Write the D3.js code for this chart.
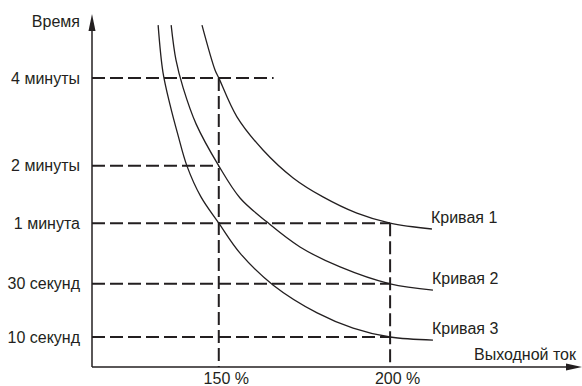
<!DOCTYPE html>
<html><head><meta charset="utf-8">
<script src="https://cdn.jsdelivr.net/npm/d3@7"></script>
<style>
body{margin:0;background:#fff}
svg{display:block}
text{font-family:"Liberation Sans",Arial,sans-serif;font-size:16px;fill:#231f20}
</style>
</head><body>
<svg id="c" width="582" height="386"></svg>
<script>
// ---- data ----
const timeLabels = ["10 секунд", "30 секунд", "1 минута", "2 минуты", "4 минуты"];
const timeLevels = [0.87, 2.41, 4.17, 5.83, 8.38];      // schematic time scale
const timeLineEnds = [200, 200, 200, 150, 166];          // output current % where each dashed line stops
const currentTicks = [150, 200];
const currentTickLabels = ["150 %", "200 %"];
const currentLineTops = [8.38, 4.17];                    // time level where each vertical dashed line starts
const curveNames = ["Кривая 1", "Кривая 2", "Кривая 3"];
const curve1X = [145.1, 148.9, 150.0, 155.3, 162.9, 171.7, 180.4, 190.3, 200.0, 212.2];
const curve1Y = [9.91, 8.61, 8.38, 7.25, 6.29, 5.48, 4.93, 4.46, 4.17, 4.00];
const curve2X = [136.1, 137.5, 139.6, 143.4, 150.0, 156.2, 164.1, 173.7, 185.4, 200.0, 212.5];
const curve2Y = [9.91, 8.90, 8.09, 7.04, 5.83, 4.90, 4.20, 3.48, 2.90, 2.41, 2.23];
const curve3X = [132.3, 133.7, 135.8, 138.1, 140.7, 144.8, 150.0, 156.2, 165.8, 178.7, 189.2, 200.0, 212.5];
const curve3Y = [9.91, 8.55, 7.59, 6.72, 5.83, 4.93, 4.17, 3.30, 2.38, 1.57, 1.13, 0.87, 0.78];
const yTitle = "Время";
const xTitle = "Выходной ток";

// ---- layout ----
const mLeft = 92, mBottom = 367, mTop = 22, mRight = 582;
const ink = "#231f20";
const svg = d3.select("#c");

const x = d3.scaleLinear().domain([113, 256]).range([mLeft, mRight]);
const y = d3.scaleLinear().domain([0, 10]).range([mBottom, mTop]);

// dashed horizontal reference lines
const dash = "13,5";
svg.append("g").selectAll("line").data(timeLevels).join("line")
  .attr("x1", x(113)).attr("x2", (d, i) => x(timeLineEnds[i]))
  .attr("y1", d => y(d)).attr("y2", d => y(d))
  .attr("stroke", ink).attr("stroke-width", 2).attr("stroke-dasharray", dash);

// dashed vertical reference lines
svg.append("g").selectAll("line").data(currentTicks).join("line")
  .attr("x1", d => x(d)).attr("x2", d => x(d))
  .attr("y1", (d, i) => y(currentLineTops[i])).attr("y2", y(0))
  .attr("stroke", ink).attr("stroke-width", 2).attr("stroke-dasharray", dash);

// curves
const curves = [[curve1X, curve1Y], [curve2X, curve2Y], [curve3X, curve3Y]];
const line = d3.line().x(d => x(d[0])).y(d => y(d[1])).curve(d3.curveCatmullRom.alpha(0.5));
curves.forEach(([cx, cy], k) => {
  const pts = cx.map((v, i) => [v, cy[i]]);
  svg.append("path").attr("d", line(pts))
    .attr("fill", "none").attr("stroke", ink).attr("stroke-width", 1.3);
  const last = pts[pts.length - 1];
  svg.append("text").attr("x", x(last[0]) - 1).attr("y", y(last[1]) - 6).text(curveNames[k]);
});

// axes
const yAxis = d3.axisLeft(y).tickValues(timeLevels)
  .tickFormat((d, i) => timeLabels[i]).tickSize(0).tickPadding(12);
const gy = svg.append("g").attr("transform", `translate(${mLeft},0)`).call(yAxis);
gy.select(".domain").remove();
gy.attr("font-size", null).attr("font-family", null);
gy.selectAll("text").attr("fill", ink);

const xAxis = d3.axisBottom(x).tickValues(currentTicks)
  .tickFormat((d, i) => currentTickLabels[i]).tickSize(0).tickPadding(6);
const gx = svg.append("g").attr("transform", `translate(0,${mBottom})`).call(xAxis);
gx.select(".domain").remove();
gx.attr("font-size", null).attr("font-family", null);
gx.selectAll("text").attr("fill", ink).attr("dx", 7);

// axis lines with arrows
svg.append("line").attr("x1", mLeft).attr("x2", mLeft).attr("y1", mBottom).attr("y2", 28)
  .attr("stroke", ink).attr("stroke-width", 1.5);
svg.append("path").attr("d", `M${mLeft},14 L${mLeft - 3.5},31 L${mLeft + 3.5},31 Z`).attr("fill", ink);
svg.append("line").attr("x1", mLeft).attr("x2", 568).attr("y1", mBottom).attr("y2", mBottom)
  .attr("stroke", ink).attr("stroke-width", 1.5);
svg.append("path").attr("d", `M582,${mBottom} L566,${mBottom - 3.5} L566,${mBottom + 3.5} Z`).attr("fill", ink);

// axis titles
svg.append("text").attr("x", 80).attr("y", 27).attr("text-anchor", "end").text(yTitle);
svg.append("text").attr("x", 576).attr("y", 360).attr("text-anchor", "end").text(xTitle);
</script>
</body></html>
